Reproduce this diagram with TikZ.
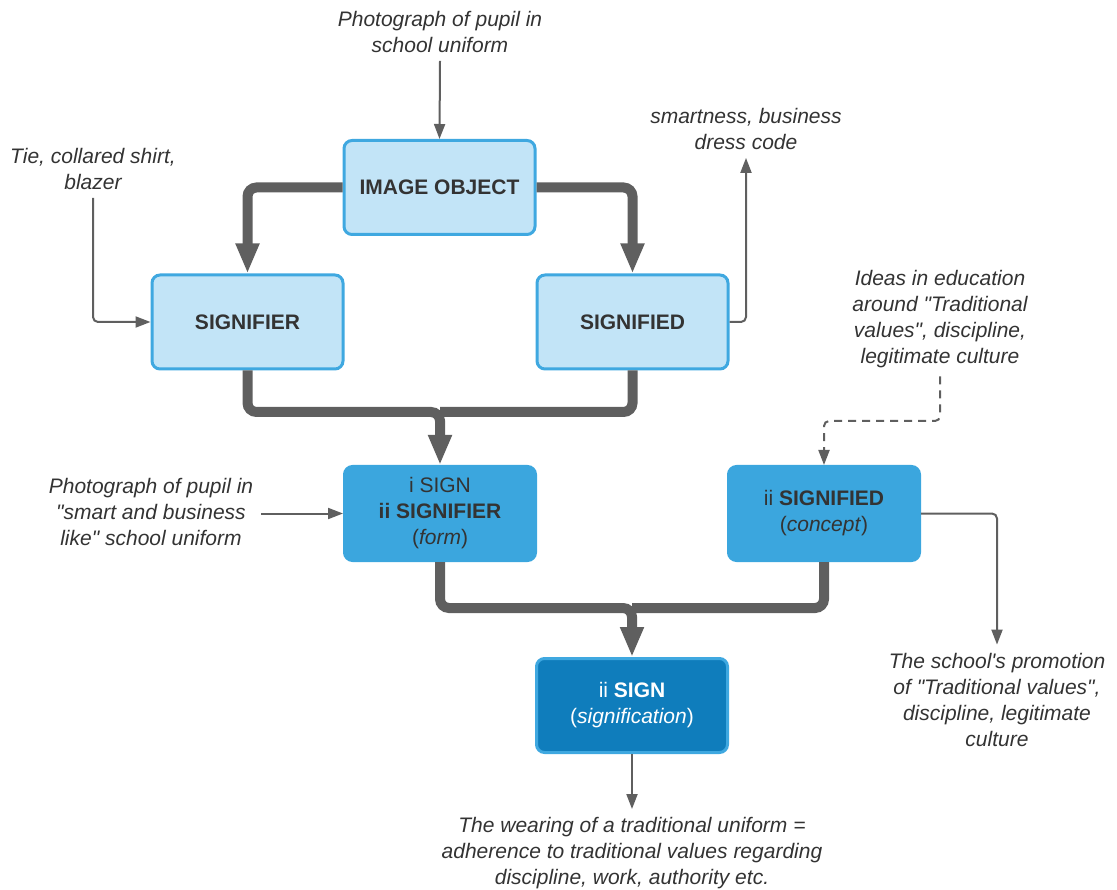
\documentclass[tikz,border=0pt]{standalone}
\usepackage{fontspec}
\setmainfont{Liberation Sans}[Ligatures=TeXOff]
\usetikzlibrary{arrows.meta}
\definecolor{lightfill}{HTML}{C2E4F7}
\definecolor{boxedge}{HTML}{3FA8E0}
\definecolor{midfill}{HTML}{3BA6DE}
\definecolor{darkfill}{HTML}{0F7DBC}
\definecolor{ink}{HTML}{333333}
\definecolor{wire}{HTML}{5F5F5F}
\begin{document}
\begin{tikzpicture}[x=1pt,y=-1pt,
  every node/.style={text=ink},
  box/.style={rounded corners=8pt, minimum width=191pt, minimum height=94pt,
    align=center, inner sep=0pt, line width=3pt, font=\fontsize{21}{26}\selectfont},
  lightbox/.style={box, fill=lightfill, draw=boxedge, font=\fontsize{21}{26}\selectfont\bfseries},
  midbox/.style={box, fill=midfill, draw=midfill},
  darkbox/.style={box, fill=darkfill, draw=boxedge, text=white},
  note/.style={align=center, inner sep=8pt, font=\fontsize{21}{26}\selectfont\itshape},
  bigwire/.style={draw=wire, line width=10pt, rounded corners=9pt},
  bigtip/.style={-{Triangle[width=22pt,length=30pt]}},
  thinwire/.style={draw=wire, line width=2pt, rounded corners=5pt,
    -{Triangle[width=11pt,length=15pt]}},
]
\useasboundingbox (0,0) rectangle (1117,890);

% boxes
\node[lightbox] (io) at (439.5,187.5) {IMAGE OBJECT};
\node[lightbox] (sr) at (247.5,322) {SIGNIFIER};
\node[lightbox] (sd) at (632.5,322) {SIGNIFIED};
\node[midbox] (s1) at (440,513.5) {i SIGN\\\textbf{ii SIGNIFIER}\\(\textit{form})};
\node[midbox] (s2) at (824,513.5) {ii \textbf{SIGNIFIED}\\(\textit{concept})};
\node[darkbox] (s3) at (632,705.5) {ii \textbf{SIGN}\\(\textit{signification})};

% notes
\node[note] (n1) at (440,32) {Photograph of pupil in\\school uniform};
\node[note] (n2) at (93,169) {Tie, collared shirt,\\blazer};
\node[note] (n3) at (746,129) {smartness, business\\dress code};
\node[note] (n4) at (940,319.5) {Ideas in education\\around "Traditional\\values", discipline,\\legitimate culture};
\node[note] (n5) at (151,512) {Photograph of pupil in\\"smart and business\\like" school uniform};
\node[note] (n6) at (997,699.5) {The school's promotion\\of "Traditional values",\\discipline, legitimate\\culture};
\node[note] (n7) at (632,853) {The wearing of a traditional uniform =\\adherence to traditional values regarding\\discipline, work, authority etc.};

% junctions
\coordinate (j1) at (440,412);
\coordinate (j2) at (632,608);
\coordinate (c4) at (824,421);

% thick connectors
\draw[bigwire,bigtip] (io.west) -| (sr.north);
\draw[bigwire,bigtip] (io.east) -| (sd.north);
\draw[bigwire] (sd.south) |- (j1);
\draw[bigwire,bigtip] (sr.south) |- (j1) -- (s1.north);
\draw[bigwire] (s2.south) |- (j2);
\draw[bigwire,bigtip] (s1.south) |- (j2) -- (s3.north);

% thin connectors
\draw[thinwire] (n1.south) -- (io.north);
\draw[thinwire] (n2.south) |- (sr.west);
\draw[thinwire] (sd.east) -| (n3.south);
\draw[thinwire,dash pattern=on 8pt off 6pt] (n4.south) |- (c4) -- (s2.north);
\draw[thinwire] (n5.east |- s1.west) -- (s1.west);
\draw[thinwire] (s2.east) -| (n6.north);
\draw[thinwire] (s3.south) -- (n7.north);
\end{tikzpicture}
\end{document}
